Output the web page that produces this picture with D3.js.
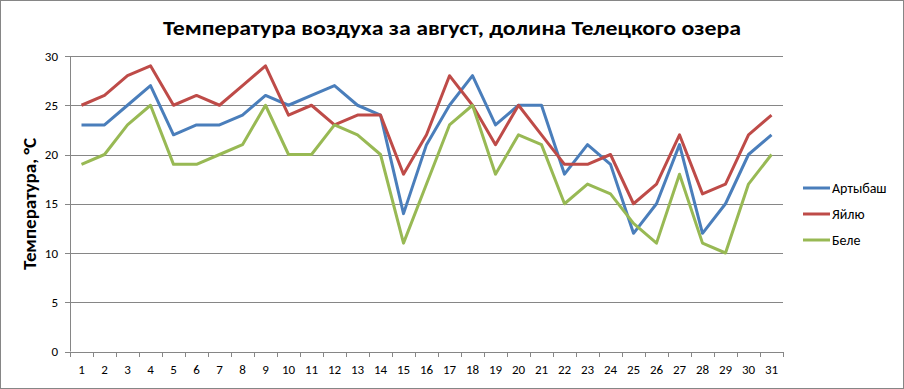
<!DOCTYPE html>
<html>
<head>
<meta charset="utf-8">
<script src="https://cdn.jsdelivr.net/npm/d3@7"></script>
<style>
  body { margin: 0; background: #fff; }
  svg { display: block; font-family: Calibri, "Liberation Sans", "Noto Sans", sans-serif; }
</style>
</head>
<body>
<div id="chart"></div>
<script>
const days = d3.range(1, 32).map(String);
const artybash = [23,23,25,27,22,23,23,24,26,25,26,27,25,24,14,21,25,28,23,25,25,18,21,19,12,15,21,12,15,20,22];
const yailyu   = [25,26,28,29,25,26,25,27,29,24,25,23,24,24,18,22,28,25,21,25,22,19,19,20,15,17,22,16,17,22,24];
const bele     = [19,20,23,25,19,19,20,21,25,20,20,23,22,20,11,17,23,25,18,22,21,15,17,16,13,11,18,11,10,17,20];
const yTicks = [0, 5, 10, 15, 20, 25, 30];

const series = [
  { name: "Артыбаш", values: artybash, color: "#4A7EBB" },
  { name: "Яйлю", values: yailyu, color: "#BE4B48" },
  { name: "Беле", values: bele, color: "#98B954" }
];

const width = 904, height = 389;
const margin = { top: 56, right: 121, bottom: 37, left: 70 };

const svg = d3.select("#chart").append("svg")
  .attr("width", width)
  .attr("height", height);

// outer frame
svg.append("rect")
  .attr("x", 0.5).attr("y", 0.5)
  .attr("width", width - 1).attr("height", height - 1)
  .attr("fill", "#fff")
  .attr("stroke", "#868686");

const x = d3.scaleBand()
  .domain(days)
  .range([margin.left, width - margin.right]);

const y = d3.scaleLinear()
  .domain([0, 30])
  .range([height - margin.bottom - 0.5, margin.top]);

// gridlines
svg.append("g")
  .selectAll("line")
  .data(yTicks)
  .join("line")
  .attr("x1", margin.left - 5)
  .attr("x2", width - margin.right)
  .attr("y1", d => Math.round(y(d)) + 0.5)
  .attr("y2", d => Math.round(y(d)) + 0.5)
  .attr("stroke", "#868686")
  .attr("stroke-width", 1);

// left axis line
svg.append("line")
  .attr("x1", margin.left + 0.5).attr("x2", margin.left + 0.5)
  .attr("y1", y(30)).attr("y2", y(0))
  .attr("stroke", "#868686");

// y tick labels
svg.append("g")
  .selectAll("text")
  .data(yTicks)
  .join("text")
  .attr("x", margin.left - 12)
  .attr("y", d => y(d))
  .attr("dy", "0.35em")
  .attr("text-anchor", "end")
  .attr("font-size", 13)
  .attr("fill", "#000")
  .text(d => d);

// x tick marks at band boundaries
const bounds = days.map(d => x(d)).concat([x(days[days.length - 1]) + x.bandwidth()]);
svg.append("g")
  .selectAll("line")
  .data(bounds)
  .join("line")
  .attr("x1", d => Math.round(d) + 0.5)
  .attr("x2", d => Math.round(d) + 0.5)
  .attr("y1", Math.round(y(0)))
  .attr("y2", Math.round(y(0)) + 5)
  .attr("stroke", "#868686");

// x labels
svg.append("g")
  .selectAll("text")
  .data(days)
  .join("text")
  .attr("x", d => x(d) + x.bandwidth() / 2)
  .attr("y", y(0) + 22)
  .attr("text-anchor", "middle")
  .attr("font-size", 13)
  .attr("fill", "#000")
  .text(d => d);

// lines
const line = d3.line()
  .x((v, i) => x(days[i]) + x.bandwidth() / 2)
  .y(v => y(v));

svg.append("g")
  .selectAll("path")
  .data(series)
  .join("path")
  .attr("d", s => line(s.values))
  .attr("fill", "none")
  .attr("stroke", s => s.color)
  .attr("stroke-width", 3)
  .attr("stroke-linejoin", "round");

// title
svg.append("text")
  .attr("x", 452)
  .attr("y", 35)
  .attr("text-anchor", "middle")
  .attr("font-size", 21)
  .attr("font-weight", "bold")
  .attr("textLength", 578)
  .attr("lengthAdjust", "spacingAndGlyphs")
  .text("Температура воздуха за август, долина Телецкого озера");

// y axis title
svg.append("text")
  .attr("transform", `translate(36, 204) rotate(-90)`)
  .attr("text-anchor", "middle")
  .attr("font-size", 17)
  .attr("font-weight", "bold")
  .attr("textLength", 132)
  .attr("lengthAdjust", "spacingAndGlyphs")
  .text("Температура, °C");

// legend
const legend = svg.append("g")
  .selectAll("g")
  .data(series)
  .join("g")
  .attr("transform", (s, i) => `translate(803, ${188 + i * 26})`);

legend.append("line")
  .attr("x1", 0).attr("x2", 27)
  .attr("stroke", d => d.color)
  .attr("stroke-width", 3);

legend.append("text")
  .attr("x", 29)
  .attr("dy", "0.35em")
  .attr("font-size", 14)
  .text(d => d.name);
</script>
</body>
</html>
